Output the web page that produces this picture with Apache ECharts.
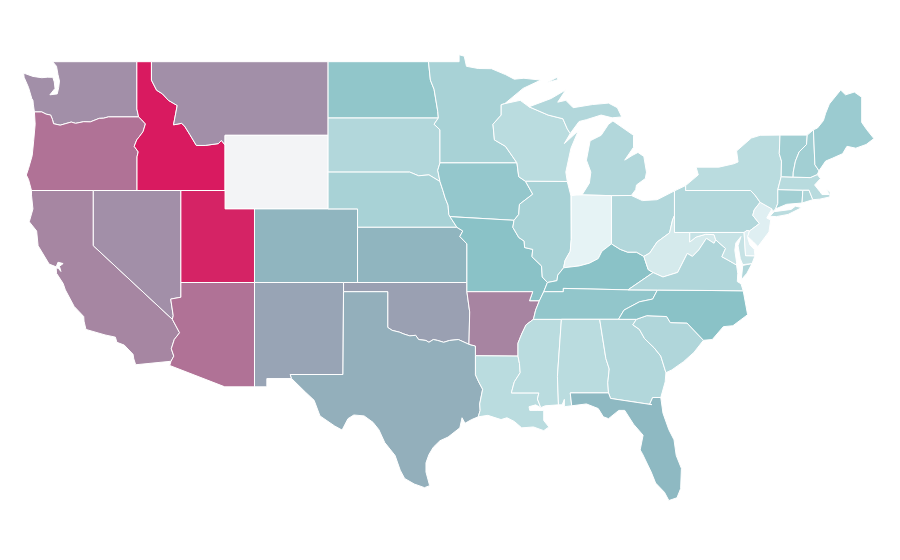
<!DOCTYPE html>
<html>
<head>
<meta charset="utf-8">
<title>US states</title>
<style>html,body{margin:0;background:#fff}#chart{width:900px;height:560px}</style>
<script src="https://cdn.jsdelivr.net/npm/echarts@6/dist/echarts.min.js"></script>
</head>
<body>
<div id="chart"></div>
<script>
var stateNames = ['Washington','Oregon','California','Nevada','Idaho','Montana','Wyoming','Utah','Arizona','Colorado','New Mexico','North Dakota','South Dakota','Nebraska','Kansas','Oklahoma','Texas','Minnesota','Iowa','Missouri','Arkansas','Louisiana','Wisconsin','Illinois','Mississippi','Michigan','Indiana','Kentucky','Tennessee','Alabama','Ohio','West Virginia','Georgia','Florida','South Carolina','North Carolina','Virginia','Pennsylvania','Maryland','Delaware','New Jersey','New York','Connecticut','Rhode Island','Massachusetts','Vermont','New Hampshire','Maine'];
var stateValues = [76.8,82.6,78.5,76.8,100,76.8,0,98.3,82.6,69.2,72.6,64.2,52.2,55.8,69.2,73.4,70.5,55.8,63,66.7,79,49.2,49.2,55.8,49.2,52.2,33.3,66.7,63.7,49.2,52.2,39.5,52.2,68.4,52.9,66.7,52.9,52.2,45,35.8,35.8,49.2,58,53.3,50,58,58,60.5];
var scaleColors = ['#f3f4f6','#e6f3f5','#8ac2c7','#d91a60'];

// shared borders, lon/lat, so neighbouring states line up
var snake = [[-117.03,42],[-117.03,43.83],[-116.95,44.1],[-117.22,44.4],[-117.05,44.75],[-116.85,44.95],[-116.62,45.2],[-116.46,45.62],[-116.7,45.83],[-116.92,46]];
var columbia = [[-116.92,46],[-118.98,46],[-119.3,45.93],[-119.6,45.92],[-120.2,45.73],[-120.65,45.74],[-121.2,45.65],[-121.5,45.72],[-122.25,45.55],[-122.7,45.63],[-122.78,45.87],[-122.9,46.1],[-123.2,46.15],[-123.5,46.27],[-124,46.27]];
var bitterroot = [[-116.05,49],[-116.05,48],[-115.7,47.45],[-115.3,47.25],[-114.9,46.9],[-114.3,46.62],[-114.55,45.57],[-114,45.65],[-113.8,45.5],[-113.45,45.05],[-113,44.45],[-112.4,44.45],[-111.5,44.55],[-111.3,44.72],[-111.05,44.48]];
var coloradoN = [[-114.74,36.1],[-114.57,35.2],[-114.63,35]];
var coloradoS = [[-114.63,35],[-114.14,34.27],[-114.5,33.9],[-114.7,33.4],[-114.53,33],[-114.72,32.72]];
var redRiver = [[-100,34.56],[-99.7,34.4],[-99.2,34.3],[-98.9,34.2],[-98.5,34.1],[-98.1,34.13],[-97.9,33.9],[-97.4,33.85],[-97.2,33.75],[-96.9,33.9],[-96.6,33.85],[-96.2,33.75],[-95.8,33.85],[-95.2,33.9],[-94.48,33.64]];
var sabine = [[-94.04,31.99],[-93.82,31.6],[-93.55,31.2],[-93.75,30.4],[-93.72,30.05],[-93.85,29.7]];
var moRiver = [[-96.45,42.49],[-96.25,42],[-96.1,41.6],[-95.9,41.2],[-95.85,40.7],[-95.77,40.58],[-95.3,40],[-94.9,39.8],[-95.1,39.5],[-94.62,39.1]];
var nebTop = [[-96.45,42.49],[-97.2,42.85],[-97.9,42.8],[-98.5,43],[-104.05,43]];
var redRiverN = [[-97.23,49],[-97.1,48],[-96.85,47.5],[-96.6,46.3],[-96.56,45.94]];
var sdEast = [[-96.56,45.94],[-96.85,45.6],[-96.45,45.3],[-96.45,43.5]];
var sdIowa = [[-96.45,43.5],[-96.6,43.1],[-96.45,42.49]];
var stCroix = [[-92.05,46.72],[-92.29,46.66],[-92.29,46.1],[-92.85,45.6],[-92.75,44.75],[-92,44.4],[-91.22,43.5]];
var missIowaWi = [[-91.22,43.5],[-91.1,42.75],[-90.64,42.5]];
var missIowaIl = [[-90.64,42.5],[-90.15,41.8],[-91.05,41.25],[-91.1,40.7],[-91.42,40.38]];
var missMoIl = [[-91.42,40.38],[-91.5,40],[-91.1,39.45],[-90.73,39.25],[-90.7,38.9],[-90.15,38.8],[-90.2,38.4],[-89.55,37.9],[-89.5,37.3],[-89.15,37]];
var missArTn = [[-89.7,36],[-89.95,35.5],[-90.1,35]];
var missArMs = [[-90.1,35],[-90.6,34.7],[-90.9,34.2],[-91.15,33.7],[-91.15,33]];
var missLaMs = [[-91.15,33],[-91.05,32.6],[-91,32.1],[-91.4,31.6],[-91.6,31],[-89.73,31],[-89.83,30.67],[-89.6,30.2]];
var ohioIl = [[-89.15,37],[-88.5,37.1],[-88.45,37.4],[-88.05,37.8]];
var wabash = [[-87.53,39.35],[-87.6,38.7],[-87.95,38.2],[-88.05,37.8]];
var ohioIn = [[-88.05,37.8],[-87,37.9],[-86.3,38.05],[-85.7,38.3],[-85.45,38.7],[-84.8,39.1]];
var ohioOh = [[-84.8,39.1],[-84.2,38.8],[-83.7,38.65],[-83.1,38.65],[-82.6,38.42]];
var ohioWv = [[-82.6,38.42],[-82.2,38.6],[-81.7,39.2],[-80.85,39.7],[-80.65,40.4],[-80.52,40.64]];
var bigSandy = [[-82.6,38.42],[-82.3,37.7],[-81.97,37.54]];
var wvVa = [[-81.97,37.54],[-81.3,37.3],[-80.3,37.55],[-79.65,38.58],[-79.3,38.42],[-78.87,38.77],[-78.35,39.4],[-77.83,39.13],[-77.72,39.32]];
var potomacWv = [[-79.48,39.2],[-79.05,39.47],[-78.4,39.62],[-77.83,39.6],[-77.72,39.32]];
var potomacVa = [[-77.72,39.32],[-77.05,38.85],[-77.3,38.4],[-76.95,38.25],[-76.3,37.95]];
var tnNc = [[-81.68,36.59],[-82,36.1],[-82.9,35.95],[-83.95,35.5],[-84.32,35]];
var ncSc = [[-83.1,35],[-82.4,35.2],[-81.05,35.15],[-80.8,34.82],[-79.67,34.8],[-78.55,33.86]];
var savannah = [[-83.1,35],[-83.35,34.7],[-82.9,34.45],[-82.55,33.95],[-81.9,33.45],[-81.45,33],[-81.1,32.1]];
var flNorth = [[-87.6,31],[-85,31],[-84.86,30.7],[-82.05,30.36],[-82.2,30.4],[-82,30.75],[-81.45,30.75]];
var delaware = [[-75.42,39.8],[-74.75,40.2],[-75.2,40.65],[-75.1,40.95],[-74.7,41.36]];
var miSup = [[-90.4,46.55],[-89.1,46.1],[-88.1,45.9],[-87.8,45.35],[-87.6,45.1]];

function rev(a){ return a.slice().reverse(); }
function ring(){ return Array.prototype.concat.apply([], arguments); }

var stateShapes = {
  'Washington':[ring([[-122.76,49],[-117.04,49],[-117.04,46.43]],columbia,[[-124.07,46.65],[-124.1,46.9],[-124.18,47],[-124.4,47.6],[-124.7,48.15],[-124.73,48.38],[-124.1,48.2],[-123.5,48.13],[-123.1,48.16],[-122.75,48.15],[-122.65,47.9],[-122.6,47.55],[-122.95,47.2],[-122.45,47.25],[-122.35,47.6],[-122.3,47.95],[-122.4,48.3],[-122.5,48.75]])],
  'Oregon':[ring(rev(columbia),rev(snake),[[-120,42],[-124.2,42],[-124.4,42.6],[-124.55,42.84],[-124.4,43.2],[-124.15,43.9],[-124.05,44.7],[-123.95,45.6]])],
  'California':[ring([[-124.2,42],[-120,42],[-120,39]],coloradoS,[[-117.12,32.53],[-117.25,32.85],[-117.3,33.1],[-117.9,33.6],[-118.4,33.75],[-118.5,34.03],[-119.2,34.15],[-120.5,34.45],[-120.63,34.9],[-120.65,35.15],[-121.3,35.7],[-121.9,36.6],[-122.05,36.95],[-122.5,37.5],[-122.52,37.78],[-122.38,37.78],[-122.2,37.6],[-122.3,37.88],[-122.05,38.03],[-122.4,38.1],[-122.52,37.85],[-123,38],[-123.75,39],[-123.85,39.8],[-124.35,40.3],[-124.1,41],[-124.2,41.75]])],
  'Nevada':[ring([[-120,42],[-114.05,42],[-114.05,36.2]],coloradoN,[[-120,39]])],
  'Idaho':[ring([[-117.04,49]],bitterroot,[[-111.05,42]],snake,[[-117.04,46.43]])],
  'Montana':[ring(bitterroot,[[-111.05,45],[-104.05,45],[-104.05,49]])],
  'Wyoming':[[[-111.05,45],[-104.05,45],[-104.05,41],[-111.05,41]]],
  'Utah':[[[-114.05,42],[-111.05,42],[-111.05,41],[-109.05,41],[-109.05,37],[-114.05,37]]],
  'Arizona':[ring([[-114.05,37],[-109.05,37],[-109.05,31.33],[-111.07,31.33],[-114.81,32.49]],rev(coloradoS),rev(coloradoN),[[-114.05,36.2]])],
  'Colorado':[[[-109.05,41],[-102.05,41],[-102.05,37],[-109.05,37]]],
  'New Mexico':[[[-109.05,37],[-103,37],[-103.04,32],[-106.62,32],[-106.53,31.78],[-108.21,31.78],[-108.21,31.33],[-109.05,31.33]]],
  'North Dakota':[ring([[-104.05,49]],redRiverN,[[-104.05,45.94]])],
  'South Dakota':[ring([[-104.05,45.94]],sdEast,sdIowa,nebTop)],
  'Nebraska':[ring(rev(nebTop),moRiver.slice(0,7),[[-102.05,40],[-102.05,41],[-104.05,41]])],
  'Kansas':[ring([[-102.05,40]],moRiver.slice(6),[[-94.62,37],[-102.05,37]])],
  'Oklahoma':[ring([[-103,37],[-94.62,37],[-94.62,36.5],[-94.43,35.4]],rev(redRiver),[[-100,36.5],[-103,36.5]])],
  'Texas':[ring([[-103,36.5],[-100,36.5]],redRiver,[[-94.04,33.55],[-94.04,33.02]],sabine,[[-94.3,29.55],[-94.75,29.35],[-94.95,29.65],[-95.1,29.1],[-95.9,28.6],[-96.45,28.4],[-96.9,28.05],[-97.2,27.65],[-97.4,27.2],[-97.4,26.7],[-97.15,25.96],[-97.5,25.85],[-98.2,26.05],[-98.85,26.35],[-99.15,26.8],[-99.5,27.6],[-100.2,28.3],[-100.6,29],[-101,29.4],[-101.6,29.75],[-102.3,29.8],[-102.7,29.6],[-103.1,28.98],[-103.6,29.2],[-104.6,29.75],[-105,30.6],[-105.6,31.05],[-106.53,31.78],[-106.62,32],[-103.04,32]])],
  'Minnesota':[ring([[-97.23,49],[-95.15,49],[-95.15,49.38],[-94.8,49.3],[-94.65,48.75],[-93.85,48.63],[-92.95,48.62],[-92,48.3],[-91.4,48.05],[-90.75,48.1],[-89.6,48],[-90.8,47.55]],stCroix,rev(sdEast),rev(redRiverN))],
  'Iowa':[ring(missIowaWi,missIowaIl,rev(moRiver.slice(0,6)),rev(sdIowa))],
  'Missouri':[ring(moRiver.slice(5),[[-94.62,36.5],[-90.15,36.5],[-90.37,36],[-89.7,36],[-89.4,36.5]],rev(missMoIl),[[-95.77,40.58]])],
  'Arkansas':[ring([[-94.62,36.5],[-90.15,36.5],[-90.37,36]],missArTn,missArMs,[[-94.04,33.02],[-94.04,33.55],[-94.48,33.64],[-94.43,35.4]])],
  'Louisiana':[ring([[-94.04,33.02]],missLaMs,[[-89.95,30.35],[-90.4,30.25],[-90.35,30.05],[-89.85,30.05],[-89.4,30.05],[-89.4,29.5],[-89.05,29.15],[-89.4,28.95],[-90.1,29.15],[-90.9,29.1],[-91.4,29.45],[-91.9,29.65],[-92.3,29.55],[-93.2,29.78]],rev(sabine))],
  'Wisconsin':[ring(rev(stCroix),[[-91,46.9]],miSup,[[-88,44.55],[-87.05,45.25],[-87.55,44.3],[-87.9,43],[-87.8,42.49]],rev(missIowaWi))],
  'Illinois':[ring([[-90.64,42.5],[-87.8,42.49],[-87.55,41.7]],wabash,rev(ohioIl),rev(missMoIl),rev(missIowaIl))],
  'Mississippi':[ring([[-90.1,35],[-88.2,35],[-88.47,31.9],[-88.4,30.35],[-89.3,30.3]],rev(missLaMs),rev(missArMs))],
  'Michigan':[
    [[-86.8,41.76],[-84.8,41.72],[-83.45,41.73],[-83.15,42.05],[-83.1,42.3],[-82.5,42.65],[-82.42,43],[-82.6,43.85],[-83,44.07],[-83.4,43.9],[-83.9,43.65],[-83.3,44.35],[-83.3,45],[-84.7,45.78],[-85,45.6],[-85.5,45],[-86.25,44.7],[-86.5,43.65],[-86.2,43],[-86.3,42.4]],
    ring(miSup,[[-87,45.75],[-86.5,45.85],[-85.5,46.1],[-84.75,45.95],[-84.1,46],[-84.4,46.5],[-85,46.75],[-86.1,46.67],[-87.4,46.5],[-87.9,46.9],[-88.45,46.8],[-87.9,47.47],[-88.9,47],[-90.4,46.55]]),
    [[-89.2,47.85],[-88.5,48.15],[-88.45,48.02]]
  ],
  'Indiana':[ring([[-87.53,41.72],[-87.2,41.75],[-86.8,41.76],[-84.8,41.72]],rev(ohioIn),rev(wabash))],
  'Kentucky':[ring(ohioIl,ohioIn,ohioOh,bigSandy,[[-83.68,36.6],[-88.07,36.68],[-88.07,36.5],[-89.4,36.5]])],
  'Tennessee':[ring([[-89.4,36.5],[-88.07,36.5],[-88.07,36.68],[-83.68,36.6]],tnNc,[[-90.1,35]],rev(missArTn))],
  'Alabama':[[[-88.2,35],[-85.6,35],[-85.18,32.87],[-84.95,32.3],[-85.05,31.55],[-85,31],[-87.6,31],[-87.5,30.3],[-88,30.25],[-88,30.65],[-88.15,30.35],[-88.4,30.35],[-88.47,31.9]]],
  'Ohio':[ring([[-84.8,41.72],[-83.45,41.73],[-82.7,41.45],[-81.7,41.5],[-80.52,41.98]],rev(ohioWv),rev(ohioOh))],
  'West Virginia':[ring([[-80.52,40.64],[-80.52,39.72],[-79.48,39.72]],potomacWv,rev(wvVa),rev(bigSandy),ohioWv)],
  'Georgia':[ring([[-85.6,35]],savannah,[[-81.15,31.6]],rev(flNorth).slice(0,6),[[-85.05,31.55],[-84.95,32.3],[-85.18,32.87]])],
  'Florida':[ring(flNorth,[[-81.3,29.9],[-80.9,29],[-80.55,28.45],[-80.4,27.6],[-80.05,26.9],[-80.1,25.8],[-80.35,25.3],[-80.9,25.15],[-81.2,25.6],[-81.8,26.1],[-82.1,26.7],[-82.7,27.7],[-82.85,27.9],[-82.65,28.7],[-83.3,29.3],[-83.9,30.05],[-84.3,30.05],[-85,29.6],[-85.35,29.7],[-85.7,30.15],[-86.5,30.4],[-87.5,30.3]])],
  'South Carolina':[ring(ncSc,[[-79.2,33.2],[-79.9,32.7],[-80.7,32.25]],rev(savannah))],
  'North Carolina':[ring(tnNc,ncSc,[[-77.95,33.9],[-77.2,34.6],[-76.55,34.65],[-75.55,35.25],[-75.85,36.55]])],
  'Virginia':[
    ring([[-83.68,36.6]],wvVa,potomacVa.slice(1),[[-76.22,37.5],[-76.25,37.05],[-76,36.93],[-75.85,36.55],[-81.68,36.59]]),
    [[-75.98,37.15],[-75.88,37.93],[-75.25,38.03],[-75.6,37.5]]
  ],
  'Pennsylvania':[ring([[-80.52,41.98],[-79.76,42.27],[-79.76,42],[-75.35,42],[-75.05,41.75]],rev(delaware),[[-75.6,39.83],[-75.79,39.72],[-80.52,39.72]])],
  'Maryland':[ring([[-79.48,39.72],[-75.79,39.72],[-75.69,38.46],[-75.05,38.45],[-75.25,38.03],[-75.88,37.97],[-76.05,38.3],[-76.2,39],[-76,39.5],[-76.35,39.15],[-76.42,38.75],[-76.3,38.1]],rev(potomacVa),rev(potomacWv))],
  'Delaware':[[[-75.79,39.72],[-75.6,39.83],[-75.42,39.8],[-75.55,39.45],[-75.4,39.05],[-75.1,38.8],[-75.05,38.45],[-75.69,38.46]]],
  'New Jersey':[ring([[-74.7,41.36],[-73.9,41],[-74.15,40.65],[-74.25,40.5],[-73.98,40.4],[-74.1,39.75],[-74.85,38.95],[-75.15,39.2],[-75.55,39.5]],delaware.slice(0,4))],
  'New York':[
    [[-79.76,42],[-79.76,42.27],[-78.9,42.85],[-79.05,43.27],[-77.5,43.27],[-76.5,43.45],[-76.2,43.55],[-76.3,44.15],[-75.3,44.85],[-74.7,45],[-73.35,45.01],[-73.4,44],[-73.25,43.6],[-73.27,42.75],[-73.5,42.05],[-73.5,41.3],[-73.65,41],[-73.85,40.85],[-73.9,41],[-74.7,41.36],[-75.05,41.75],[-75.35,42]],
    [[-74.03,40.6],[-73.75,40.85],[-72.6,40.97],[-72.3,41.15],[-71.87,41.07],[-72.8,40.7],[-73.6,40.58]]
  ],
  'Connecticut':[[[-73.5,42.05],[-71.8,42.02],[-71.85,41.32],[-72.9,41.25],[-73.65,41],[-73.5,41.3]]],
  'Rhode Island':[[[-71.8,42.02],[-71.38,42.02],[-71.12,41.5],[-71.85,41.32]]],
  'Massachusetts':[[[-73.5,42.05],[-73.27,42.75],[-72.46,42.73],[-71.3,42.7],[-70.82,42.87],[-70.6,42.65],[-71,42.3],[-70.65,41.95],[-70.5,41.78],[-70,41.78],[-70.2,42.07],[-69.95,41.9],[-69.97,41.65],[-70.65,41.53],[-71.12,41.5],[-71.38,42.02],[-71.8,42.02]]],
  'Vermont':[[[-73.35,45.01],[-71.5,45.01],[-71.55,44.5],[-72.05,44.1],[-72.3,43.6],[-72.45,43],[-72.46,42.73],[-73.27,42.75],[-73.25,43.6],[-73.4,44]]],
  'New Hampshire':[[[-71.5,45.01],[-71.08,45.3],[-70.98,43.4],[-70.7,43.07],[-70.82,42.87],[-71.3,42.7],[-72.46,42.73],[-72.45,43],[-72.3,43.6],[-72.05,44.1],[-71.55,44.5]]],
  'Maine':[[[-71.08,45.3],[-70.8,45.4],[-70.4,45.8],[-70.25,46.2],[-70,46.7],[-69.23,47.46],[-68.9,47.2],[-68.3,47.35],[-67.8,47.07],[-67.8,45.7],[-67.45,45.3],[-66.97,44.82],[-67.5,44.5],[-68.2,44.3],[-68.8,44.4],[-69.1,44],[-69.8,43.75],[-70.25,43.6],[-70.7,43.07],[-70.98,43.4]]]
};

var features = stateNames.map(function(name){
  return {
    type:'Feature',
    properties:{ name:name },
    geometry:{ type:'MultiPolygon', coordinates:stateShapes[name].map(function(r){ return [r.concat([r[0]])]; }) }
  };
});
echarts.registerMap('USA', { type:'FeatureCollection', features:features });

var chart = echarts.init(document.getElementById('chart'), null, {renderer:'canvas'});
chart.setOption({
  backgroundColor:'#fff',
  animation:false,
  visualMap:{ show:false, min:0, max:100, inRange:{ color:scaleColors } },
  series:[{
    type:'map', map:'USA',
    boundingCoords:[[-125,49.5],[-66,24.5]],
    aspectScale:0.8,
    left:19.7, top:52.5, width:868.5,
    label:{ show:false },
    itemStyle:{ borderColor:'#fff', borderWidth:1 },
    emphasis:{ label:{ show:false } },
    data:stateNames.map(function(n, i){ return { name:n, value:stateValues[i] }; })
  }]
});
</script>
</body>
</html>
